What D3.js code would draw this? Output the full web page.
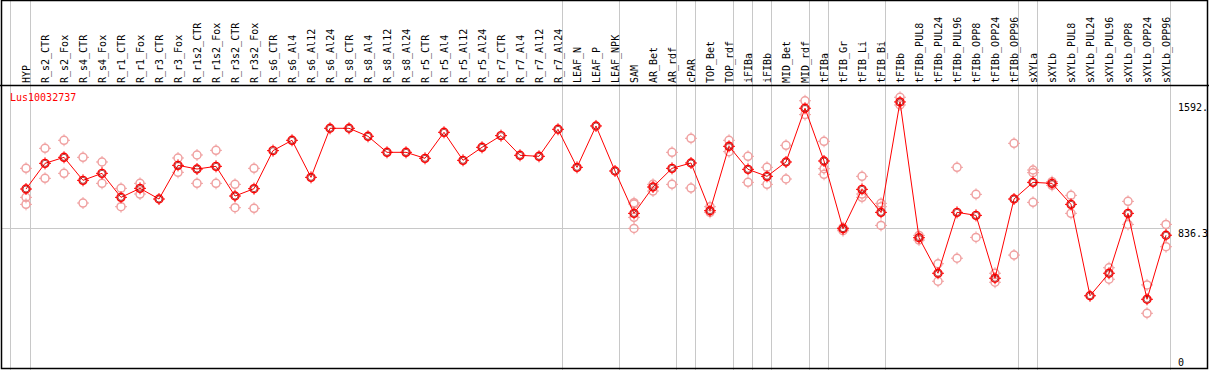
<html>
<head>
  <script src="https://cdn.jsdelivr.net/npm/d3@7"></script>
  <style>
    body { margin: 0; background: #fff; }
    text { font-family: 'DejaVu Sans Mono', monospace; font-size: 10px; }
  </style>
</head>
<body>
<svg id="chart" width="1209" height="370"></svg>
<script>
var geneName = 'Lus10032737'

var categories = ['HYP', 'R_s2_CTR', 'R_s2_Fox', 'R_s4_CTR', 'R_s4_Fox', 'R_r1_CTR', 'R_r1_Fox',
  'R_r3_CTR', 'R_r3_Fox', 'R_r1s2_CTR', 'R_r1s2_Fox', 'R_r3s2_CTR', 'R_r3s2_Fox', 'R_s6_CTR',
  'R_s6_Al4', 'R_s6_Al12', 'R_s6_Al24', 'R_s8_CTR', 'R_s8_Al4', 'R_s8_Al12', 'R_s8_Al24',
  'R_r5_CTR', 'R_r5_Al4', 'R_r5_Al12', 'R_r5_Al24', 'R_r7_CTR', 'R_r7_Al4', 'R_r7_Al12',
  'R_r7_Al24', 'LEAF_N', 'LEAF_P', 'LEAF_NPK', 'SAM', 'AR_Bet', 'AR_rdf', 'cPAR', 'TOP_Bet',
  'TOP_rdf', 'iFIBa', 'iFIBb', 'MID_Bet', 'MID_rdf', 'tFIBa', 'tFIB_Gr', 'tFIB_Li', 'tFIB_Bi',
  'tFIBb', 'tFIBb_PUL8', 'tFIBb_PUL24', 'tFIBb_PUL96', 'tFIBb_OPP8', 'tFIBb_OPP24', 'tFIBb_OPP96',
  'sXYLa', 'sXYLb', 'sXYLb_PUL8', 'sXYLb_PUL24', 'sXYLb_PUL96', 'sXYLb_OPP8', 'sXYLb_OPP24',
  'sXYLb_OPP96']

// mean expression per sample
var means = [1070, 1224, 1260, 1122, 1164, 1020, 1074, 1010, 1212, 1190, 1206, 1028, 1072,
  1300, 1362, 1140, 1434, 1434, 1386, 1290, 1290, 1254, 1410, 1242, 1320, 1390, 1272, 1266,
  1428, 1200, 1448, 1178, 924, 1082, 1194, 1226, 940, 1326, 1188, 1146, 1232, 1554, 1238,
  832, 1068, 930, 1592, 778, 565, 930, 912, 535, 1010, 1110, 1104, 978, 430, 565, 924, 409, 793]

// single replicates (light circles), same order as categories
var replicates = [
  [1194, 1020, 978],   // HYP
  [1314, 1134],        // R_s2_CTR
  [1362, 1164],        // R_s2_Fox
  [1260, 986],         // R_s4_CTR
  [1232, 1104],        // R_s4_Fox
  [1074, 964],         // R_r1_CTR
  [1104, 1040],        // R_r1_Fox
  [],                  // R_r3_CTR
  [1256, 1170],        // R_r3_Fox
  [1274, 1104],        // R_r1s2_CTR
  [1302, 1104],        // R_r1s2_Fox
  [1098, 958],         // R_r3s2_CTR
  [1194, 954],         // R_r3s2_Fox
  [], [], [], [],      // R_s6_*
  [], [], [], [],      // R_s8_*
  [], [], [], [],      // R_r5_*
  [], [], [], [],      // R_r7_*
  [], [], [],          // LEAF_*
  [988, 980, 900, 834], // SAM
  [1098, 1058],        // AR_Bet
  [1290, 1098],        // AR_rdf
  [1374, 1076],        // cPAR
  [964, 930],          // TOP_Bet
  [1362, 1294],        // TOP_rdf
  [1266, 1110],        // iFIBa
  [1200, 1098],        // iFIBb
  [1332, 1130],        // MID_Bet
  [1599, 1516],        // MID_rdf
  [1356, 1192, 1158],  // tFIBa
  [838, 820],          // tFIB_Gr
  [1146, 1020, 1040],  // tFIB_Li
  [984, 964, 852],     // tFIB_Bi
  [1620, 1574],        // tFIBb
  [792, 764],          // tFIBb_PUL8
  [622, 517],          // tFIBb_PUL24
  [1200, 655],         // tFIBb_PUL96
  [1038, 780],         // tFIBb_OPP8
  [565, 511],          // tFIBb_OPP24
  [1344, 674],         // tFIBb_OPP96
  [1184, 1168, 990],   // sXYLa
  [1114, 1092],        // sXYLb
  [1032, 924],         // sXYLb_PUL8
  [],                  // sXYLb_PUL24
  [598, 529],          // sXYLb_PUL96
  [996, 858],          // sXYLb_OPP8
  [495, 325],          // sXYLb_OPP24
  [858, 724]           // sXYLb_OPP96
]

// index of the last sample in each group (gray separators)
var groupEnds = [0, 28, 31, 34, 35, 37, 38, 39, 41, 42, 45, 52, 53, 60]

var yMarks = [1592, 836.3, 0]
var yMarkLabels = ['1592.', '836.3', '0']
var gridValue = 836.3

var W = 1209, H = 370
var headerY = 85.5
var svg = d3.select('#chart')

var x = d3.scalePoint().domain(categories).range([26, 1166])
var y = d3.scaleLinear().domain([0, gridValue]).range([367.5, 228])
var xi = function (i) { return x(categories[i]) }
var plotLeft = 1.5, plotRight = xi(60) + 4.5

// gray separators
svg.append('line')
  .attr('x1', xi(0) - 15.5).attr('x2', xi(0) - 15.5)
  .attr('y1', 0).attr('y2', H)
  .attr('stroke', '#c8c8c8')
svg.selectAll('.sep')
  .data(groupEnds)
  .enter().append('line')
  .attr('class', 'sep')
  .attr('x1', function (d) { return xi(d) + 4.5 })
  .attr('x2', function (d) { return xi(d) + 4.5 })
  .attr('y1', 0).attr('y2', H)
  .attr('stroke', '#c8c8c8')

// horizontal reference line
svg.append('line')
  .attr('x1', plotLeft).attr('x2', plotRight)
  .attr('y1', Math.round(y(gridValue)) + 0.5).attr('y2', Math.round(y(gridValue)) + 0.5)
  .attr('stroke', '#c8c8c8')

// header labels
svg.selectAll('.lab')
  .data(categories)
  .enter().append('text')
  .attr('class', 'lab')
  .attr('transform', function (d) { return 'translate(' + (x(d) + 4) + ',83) rotate(-90)' })
  .attr('fill', '#000')
  .text(function (d) { return d })

svg.append('line')
  .attr('x1', 0).attr('x2', W)
  .attr('y1', headerY).attr('y2', headerY)
  .attr('stroke', '#000').attr('stroke-width', 1.5)

svg.append('text')
  .attr('x', 10).attr('y', 101)
  .attr('fill', '#f00')
  .text(geneName)

// y labels on the right
svg.selectAll('.ylab')
  .data(yMarks)
  .enter().append('text')
  .attr('class', 'ylab')
  .attr('x', 1178)
  .attr('y', function (d) { return d === 0 ? y(d) - 1.5 : y(d) + 9 })
  .attr('fill', '#000')
  .text(function (d, i) { return yMarkLabels[i] })

// marker: ring with small spikes
function marker (sel, color, width, inner) {
  sel.append('circle').attr('r', 4)
    .attr('fill', 'none').attr('stroke', color).attr('stroke-width', width)
  if (inner) {
    sel.append('circle').attr('r', 3)
      .attr('fill', 'none').attr('stroke', inner).attr('stroke-width', 0.7)
  }
  sel.append('path').attr('d', 'M0,-4V-6M0,4V6M-4,0H-6M4,0H6')
    .attr('stroke', color).attr('stroke-width', 1)
}

var reps = []
replicates.forEach(function (r, i) {
  r.forEach(function (v) { reps.push({ i: i, v: v }) })
})

svg.selectAll('.rep')
  .data(reps)
  .enter().append('g')
  .attr('class', 'rep')
  .attr('transform', function (d) { return 'translate(' + xi(d.i) + ',' + y(d.v) + ')' })
  .call(marker, '#f0a0a0', 1.5)

var line = d3.line()
  .x(function (d, i) { return xi(i) })
  .y(function (d) { return y(d) })

svg.append('path')
  .datum(means)
  .attr('d', line)
  .attr('fill', 'none')
  .attr('stroke', '#f00')
  .attr('stroke-width', 1)

svg.selectAll('.pt')
  .data(means)
  .enter().append('g')
  .attr('class', 'pt')
  .attr('transform', function (d, i) { return 'translate(' + xi(i) + ',' + y(d) + ')' })
  .call(marker, '#ff0000', 1.4, '#900000')

// frame
svg.append('rect')
  .attr('x', 1.5).attr('y', 0.5)
  .attr('width', 1206).attr('height', 368)
  .attr('fill', 'none')
  .attr('stroke', '#000').attr('stroke-width', 1.5)
</script>
</body>
</html>
